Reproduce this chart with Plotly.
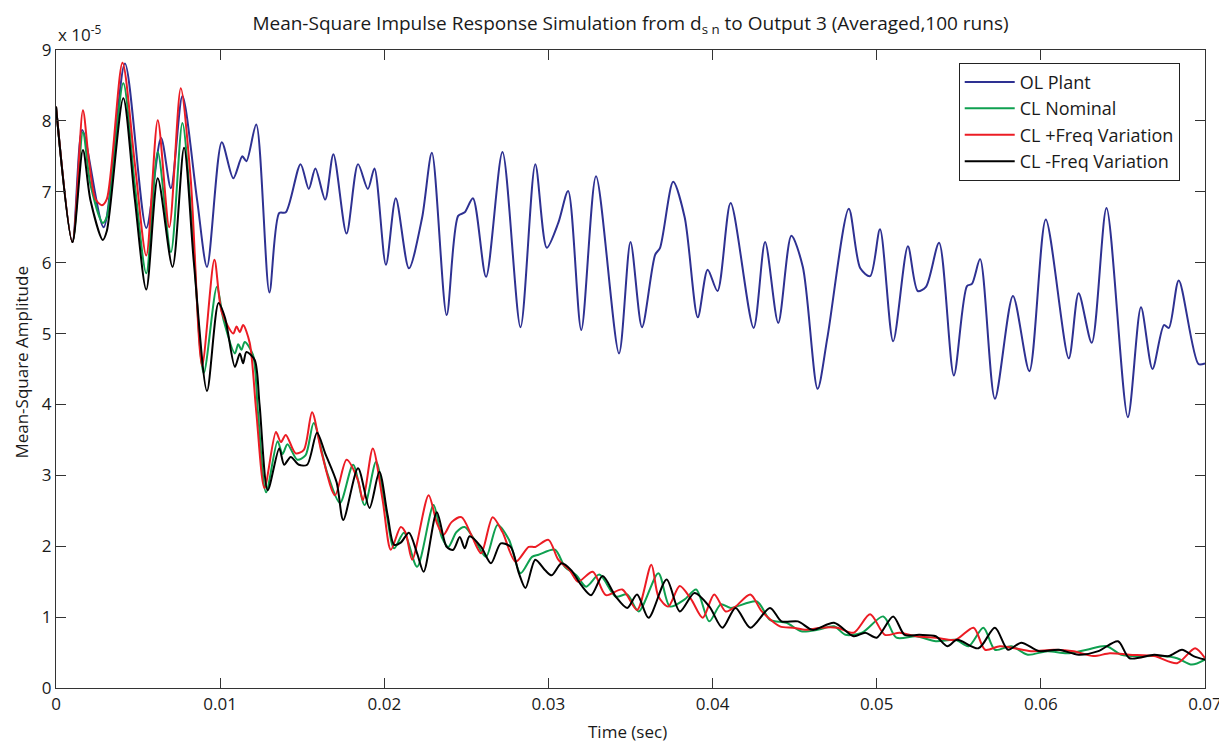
import numpy as np
import plotly.graph_objects as go

# time in seconds, amplitudes in units of 1e-5
ol_t = [0, 0.0010, 0.0016, 0.0029, 0.0042, 0.0055, 0.0064, 0.0070, 0.0077, 0.0086, 0.0092,
        0.0101, 0.0108, 0.01135, 0.0116, 0.0122, 0.0130, 0.0136, 0.0140, 0.0149, 0.0154,
        0.0158, 0.0164, 0.0169, 0.0177, 0.0184, 0.0190, 0.0194, 0.0201, 0.0207, 0.0215,
        0.0223, 0.0229, 0.0238, 0.0245, 0.0249, 0.0254, 0.0262, 0.0272, 0.0283, 0.0292,
        0.0299, 0.0306, 0.0312, 0.0320, 0.0329, 0.0343, 0.0350, 0.0357, 0.0365, 0.0368,
        0.0376, 0.0383, 0.0391, 0.0397, 0.0403, 0.0411, 0.0425, 0.0432, 0.0440, 0.0448,
        0.0455, 0.0464, 0.0470, 0.0483, 0.0490, 0.0496, 0.0502, 0.0510, 0.0519, 0.0525,
        0.0530, 0.0538, 0.0547, 0.0555, 0.0558, 0.0563, 0.0572, 0.0583, 0.0593, 0.0603,
        0.0617, 0.0623, 0.0631, 0.0640, 0.0653, 0.0661, 0.0668, 0.0675, 0.0678, 0.0684,
        0.0696, 0.0700]
ol_plant = [8.2, 6.29, 7.87, 6.5, 8.81, 6.49, 7.76, 7.05, 8.35, 6.88, 5.94,
            7.70, 7.19, 7.50, 7.43, 7.95, 5.58, 6.70, 6.71, 7.39, 7.04,
            7.33, 6.89, 7.53, 6.41, 7.39, 7.04, 7.33, 5.97, 6.91, 5.92,
            6.63, 7.55, 5.26, 6.66, 6.71, 6.91, 5.80, 7.56, 5.09, 7.39,
            6.21, 6.56, 7.01, 5.05, 7.22, 4.72, 6.29, 5.09, 6.11, 6.21,
            7.14, 6.64, 5.23, 5.90, 5.60, 6.84, 5.08, 6.29, 5.15, 6.38,
            5.94, 4.22, 4.95, 6.76, 5.92, 5.81, 6.47, 4.89, 6.23, 5.60,
            5.66, 6.28, 4.41, 5.67, 5.70, 6.05, 4.08, 5.53, 4.47, 6.61,
            4.65, 5.57, 4.87, 6.77, 3.82, 5.37, 4.50, 5.12, 5.08, 5.75,
            4.57, 4.58]

nom_t = [0, 0.0010, 0.00164, 0.0021, 0.00285, 0.0031, 0.0041, 0.0048, 0.0055, 0.0062, 0.0070,
         0.0077, 0.0083, 0.0090, 0.0098, 0.0102, 0.0109, 0.0111, 0.0113, 0.0115, 0.0120,
         0.0123, 0.0128, 0.0135, 0.0138, 0.0141, 0.0147, 0.0152, 0.0157, 0.0165, 0.0173,
         0.0181, 0.0188, 0.0195, 0.0201, 0.0206, 0.0212, 0.0220, 0.0230, 0.0235, 0.0239,
         0.0244, 0.0249, 0.0256, 0.0262, 0.0269, 0.0276, 0.0283, 0.0290, 0.0294, 0.0304,
         0.0310, 0.0317, 0.0323, 0.0331, 0.0341, 0.0348, 0.0355, 0.0367, 0.0374, 0.0383,
         0.0390, 0.0398, 0.0405, 0.0411, 0.0427, 0.0435, 0.0445, 0.0454, 0.0464, 0.0474,
         0.0481, 0.0491, 0.0504, 0.0512, 0.0524, 0.0536, 0.0548, 0.0556, 0.0565, 0.0572,
         0.0582, 0.0592, 0.0604, 0.0616, 0.0628, 0.0640, 0.0649, 0.0661, 0.0674, 0.0683,
         0.0692, 0.0700]
cl_nominal = [8.2, 6.29, 7.84, 7.1, 6.56, 6.65, 8.53, 7.1, 5.85, 7.56, 6.15,
              7.97, 6.5, 4.44, 5.66, 5.2, 4.72, 4.85, 4.77, 4.88, 4.7,
              3.9, 2.76, 3.48, 3.3, 3.44, 3.22, 3.28, 3.74, 3.05, 2.61,
              3.15, 2.58, 3.19, 2.51, 1.97, 2.19, 1.71, 2.58, 2.13, 1.99,
              2.2, 2.27, 2.05, 1.85, 2.30, 2.09, 1.62, 1.85, 1.88, 1.95,
              1.71, 1.59, 1.43, 1.6, 1.29, 1.32, 1.08, 1.62, 1.15, 1.25,
              1.39, 0.94, 1.18, 1.13, 1.22, 0.96, 0.92, 0.80, 0.82, 0.87,
              0.75, 0.78, 1.01, 0.71, 0.73, 0.66, 0.68, 0.59, 0.85, 0.54,
              0.59, 0.47, 0.52, 0.49, 0.54, 0.59, 0.47, 0.45, 0.45, 0.42,
              0.33, 0.40]

plus_t = [0, 0.0010, 0.00164, 0.0020, 0.0024, 0.0028, 0.0031, 0.00405, 0.0048, 0.0055, 0.0062,
          0.0069, 0.0076, 0.0082, 0.0089, 0.00965, 0.0101, 0.0108, 0.0110, 0.0112, 0.0114,
          0.0118, 0.0122, 0.0127, 0.0134, 0.0137, 0.0140, 0.0146, 0.0151, 0.0156, 0.0162,
          0.0170, 0.0177, 0.0184, 0.0187, 0.0193, 0.0199, 0.0204, 0.0210, 0.0213, 0.0217,
          0.0227, 0.0232, 0.0236, 0.0241, 0.0247, 0.0253, 0.0259, 0.0266, 0.0272, 0.0280,
          0.0288, 0.0292, 0.0300, 0.0306, 0.0313, 0.0318, 0.0327, 0.0335, 0.0345, 0.0354,
          0.03627, 0.0367, 0.0373, 0.0380, 0.0387, 0.0394, 0.0401, 0.0408, 0.0414, 0.0423,
          0.0430, 0.0441, 0.0449, 0.0457, 0.0466, 0.0476, 0.0486, 0.0496, 0.0505, 0.0514,
          0.0524, 0.0536, 0.0548, 0.0559, 0.0566, 0.0575, 0.0584, 0.0594, 0.0608, 0.0620,
          0.0632, 0.0642, 0.0654, 0.0669, 0.0683, 0.0694, 0.0700]
cl_plus_freq = [8.2, 6.29, 8.15, 7.45, 6.9, 6.81, 6.9, 8.82, 7.4, 6.1, 8.01,
                6.5, 8.46, 7.2, 4.55, 6.04, 5.3, 5.0, 5.1, 5.02, 5.12,
                4.87, 3.9, 2.82, 3.61, 3.47, 3.57, 3.31, 3.36, 3.89, 3.3,
                2.72, 3.22, 2.93, 2.65, 3.38, 2.65, 1.95, 2.27, 2.19, 1.81,
                2.72, 2.33, 2.16, 2.34, 2.41, 2.16, 1.90, 2.41, 2.2, 1.78,
                1.99, 1.99, 2.09, 1.81, 1.66, 1.5, 1.64, 1.31, 1.39, 1.1,
                1.74, 1.29, 1.15, 1.44, 1.25, 0.99, 1.32, 1.08, 1.15, 1.32,
                1.08, 0.87, 0.85, 0.82, 0.85, 0.85, 0.78, 1.04, 0.75, 0.78,
                0.73, 0.71, 0.68, 0.85, 0.54, 0.59, 0.56, 0.52, 0.54, 0.52,
                0.45, 0.49, 0.47, 0.45, 0.35, 0.56, 0.42]

minus_t = [0, 0.0010, 0.00164, 0.0021, 0.00285, 0.0031, 0.0041, 0.0048, 0.0055, 0.0062, 0.0071,
           0.0078, 0.0084, 0.0092, 0.0099, 0.0103, 0.0109, 0.0112, 0.0114, 0.0116, 0.0121,
           0.0124, 0.0129, 0.0136, 0.0139, 0.0143, 0.0148, 0.0153, 0.0159, 0.0164, 0.0171,
           0.0175, 0.0184, 0.0191, 0.0197, 0.0202, 0.0206, 0.0210, 0.0215, 0.0220, 0.0224,
           0.0232, 0.0238, 0.0242, 0.0246, 0.0249, 0.0252, 0.0259, 0.0265, 0.0271, 0.0277,
           0.0282, 0.0286, 0.0292, 0.0298, 0.0302, 0.0308, 0.0314, 0.0320, 0.0326, 0.0333,
           0.0341, 0.0348, 0.0354, 0.0361, 0.0372, 0.0380, 0.0389, 0.0398, 0.0406, 0.0414,
           0.0423, 0.0435, 0.0442, 0.0452, 0.0461, 0.0474, 0.0486, 0.0493, 0.0500, 0.0510,
           0.0517, 0.0526, 0.0536, 0.0543, 0.0549, 0.0562, 0.0572, 0.0580, 0.0588, 0.0599,
           0.0611, 0.0623, 0.0635, 0.0647, 0.0654, 0.0669, 0.0678, 0.0686, 0.0693, 0.0700]
cl_minus_freq = [8.2, 6.29, 7.59, 6.88, 6.32, 6.45, 8.32, 6.9, 5.62, 7.19, 5.94,
                 7.62, 6.0, 4.19, 5.43, 5.22, 4.53, 4.72, 4.58, 4.74, 4.63,
                 4.0, 2.79, 3.38, 3.15, 3.26, 3.15, 3.15, 3.6, 3.31, 2.9,
                 2.37, 3.1, 2.54, 3.05, 2.44, 2.02, 2.05, 2.19, 1.9, 1.64,
                 2.48, 1.99, 1.95, 2.13, 1.97, 2.14, 1.99, 1.76, 2.04, 1.99,
                 1.62, 1.41, 1.81, 1.66, 1.59, 1.76, 1.66, 1.45, 1.31, 1.58,
                 1.29, 1.13, 1.32, 0.99, 1.53, 1.08, 1.34, 1.15, 0.85, 1.13,
                 0.85, 1.13, 0.94, 0.94, 0.82, 0.92, 0.73, 0.78, 0.71, 1.01,
                 0.75, 0.75, 0.73, 0.59, 0.68, 0.56, 0.85, 0.54, 0.64, 0.52,
                 0.54, 0.47, 0.52, 0.66, 0.42, 0.47, 0.45, 0.54, 0.45, 0.40]

y_ticks = list(range(0, 10))
x_ticks = [0, 0.01, 0.02, 0.03, 0.04, 0.05, 0.06, 0.07]
x_tick_labels = ['0', '0.01', '0.02', '0.03', '0.04', '0.05', '0.06', '0.07']

scale = 1e-5
font_family = 'Open Sans'
text_color = '#1a1a1a'

series = [
    ('OL Plant', ol_t, ol_plant, '#2e3192'),
    ('CL Nominal', nom_t, cl_nominal, '#0fa050'),
    ('CL +Freq Variation', plus_t, cl_plus_freq, '#ec1c24'),
    ('CL -Freq Variation', minus_t, cl_minus_freq, '#000000'),
]

fig = go.Figure()
for name, t, vals, color in series:
    fig.add_trace(go.Scatter(
        x=t,
        y=np.array(vals) * scale,
        name=name,
        mode='lines',
        line=dict(color=color, width=2, shape='spline', smoothing=0.8)
    ))

# the page body adds an 8px offset, so the figure is sized to fit the window
fig.update_layout(
    width=1219,
    height=735,
    margin=dict(l=48, r=22, t=42, b=55),
    paper_bgcolor='white',
    plot_bgcolor='white',
    font=dict(family=font_family, size=18, color=text_color),
    title=dict(
        text='Mean-Square Impulse Response Simulation from d<sub>s n</sub> to Output 3 (Averaged,100 runs)',
        x=0.5, xref='paper', xanchor='center', y=0.988, yanchor='top',
        font=dict(size=19, family=font_family, color=text_color)
    ),
    legend=dict(
        x=0.978, y=0.98, xanchor='right', yanchor='top',
        bgcolor='white', bordercolor='#222', borderwidth=1,
        font=dict(size=18, family=font_family, color=text_color),
        itemwidth=50,
    ),
    showlegend=True,
)

fig.update_xaxes(
    range=[0, 0.07],
    tickvals=x_ticks,
    ticktext=x_tick_labels,
    tickfont=dict(size=17),
    ticks='inside', ticklen=10, tickcolor='#333',
    showline=True, linecolor='#333', linewidth=1.3, mirror='ticks',
    showgrid=False, zeroline=False, automargin=False,
)
fig.update_yaxes(
    range=[0, 9 * scale],
    tickvals=[v * scale for v in y_ticks],
    ticktext=[str(v) for v in y_ticks],
    tickfont=dict(size=17),
    ticks='inside', ticklen=10, tickcolor='#333',
    showline=True, linecolor='#333', linewidth=1.3, mirror='ticks',
    showgrid=False, zeroline=False, automargin=False,
)

# axis titles and exponent label
fig.add_annotation(
    text='Time (sec)', xref='paper', yref='paper', x=0.497, y=0,
    xanchor='center', yanchor='middle', yshift=-43, showarrow=False,
    font=dict(size=17, family=font_family, color=text_color)
)
fig.add_annotation(
    text='Mean-Square Amplitude', xref='paper', yref='paper', x=0, y=0.51,
    xanchor='center', yanchor='middle', xshift=-34, textangle=-90, showarrow=False,
    font=dict(size=17, family=font_family, color=text_color)
)
fig.add_annotation(
    text='x 10<sup>-5</sup>', xref='paper', yref='paper', x=0, y=1,
    xanchor='left', yanchor='bottom', yshift=2, showarrow=False,
    font=dict(size=17, family=font_family, color=text_color)
)

fig.write_html("out.html")
